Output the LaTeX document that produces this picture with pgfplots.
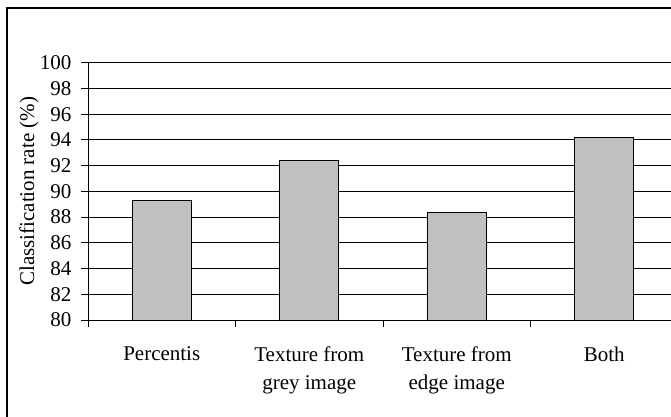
\documentclass[border=0pt]{standalone}
\usepackage{pgfplots}
\pgfplotsset{compat=1.18}
\usepackage{fontspec}
\setmainfont{Liberation Serif}
\definecolor{barfill}{HTML}{C0C0C0}
\begin{document}
\begin{tikzpicture}[x=1pt,y=1pt]
\useasboundingbox (0,0) rectangle (671,416);
\clip (0,0) rectangle (671,416);
% chart frame
\draw[line width=1.5pt] (7,-5) -- (7,408) -- (700,408);
\begin{axis}[
  at={(88pt,96pt)}, anchor=south west,
  scale only axis, width=590pt, height=257.3pt,
  xmin=-0.5, xmax=3.5, ymin=80, ymax=100,
  ytick={80,82,...,100},
  xtick={-0.5,0.5,1.5,2.5,3.5},
  xticklabels={Percentis, Texture from\\grey image, Texture from\\edge image, Both, {}},
  xticklabel style={align=center, anchor=north, xshift=73.75pt, yshift=-16pt,
    font=\fontsize{21}{28}\selectfont},
  yticklabel style={font=\fontsize{21}{24}\selectfont, xshift=-6pt},
  /pgf/number format/assume math mode=true,
  tick align=outside, major tick length=7pt,
  tick style={black, line width=0.8pt},
  axis x line*=bottom, axis y line*=left,
  axis line style={black, line width=0.8pt, -},
  ymajorgrids, major grid style={black, line width=0.8pt},
  ylabel={Classification rate (\%)},
  ylabel style={at={(axis description cs:-0.1,0.5)}, anchor=center,
    font=\fontsize{21}{24}\selectfont},
  ybar, bar width=59pt,
]
\addplot[fill=barfill, draw=black, line width=0.8pt]
  coordinates {(0,89.3) (1,92.4) (2,88.4) (3,94.2)};
\end{axis}
\end{tikzpicture}
\end{document}
